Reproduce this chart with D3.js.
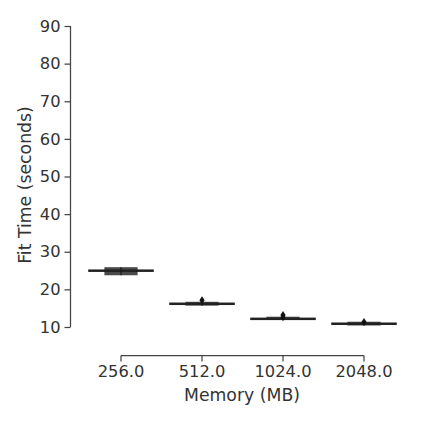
<!DOCTYPE html>
<html><head><meta charset="utf-8">
<script src="https://cdn.jsdelivr.net/npm/d3@7"></script>
<style>body{margin:0;background:#fff}svg text{font-family:"DejaVu Sans",sans-serif;fill:#333}</style>
</head><body>
<svg id="c" width="423" height="423"></svg>
<script>
const categories = ["256.0", "512.0", "1024.0", "2048.0"];
const medians = [25.0, 16.3, 12.3, 11.0];
const innerLow = [24.7, 16.1, 12.1, 10.8];
const innerHigh = [25.3, 16.5, 12.5, 11.2];
const outerLow = [23.75, 15.68, 11.86, 10.4];
const outerHigh = [25.9, 16.7, 12.74, 11.4];
const outliers = [[], [17.1], [12.6, 13.2], [11.3]];
const yTicks = [10, 20, 30, 40, 50, 60, 70, 80, 90];

const svg = d3.select("#c");
const x = d3.scaleBand().domain(categories).range([80.5, 404.5]).padding(0);
const y = d3.scaleLinear().domain([10, 90]).range([327, 26]);
const bw = x.bandwidth();

// y axis
const ya = svg.append("g").attr("transform", "translate(70.5,0)")
  .call(d3.axisLeft(y).tickValues(yTicks).tickSize(6).tickPadding(4).tickFormat(d3.format("d")));
ya.select(".domain").attr("d", `M0,${y(10)}V${y(90)}`);
// x axis
const xa = svg.append("g").attr("transform", "translate(0,355.5)")
  .call(d3.axisBottom(x).tickSize(6).tickPadding(4));
xa.select(".domain").attr("d", `M${x(categories[0]) + bw/2},0H${x(categories[3]) + bw/2}`);
[ya, xa].forEach(g => {
  g.selectAll(".domain").attr("stroke", "#444").attr("stroke-width", 1.25);
  g.selectAll(".tick line").attr("stroke", "#444").attr("stroke-width", 1.25);
  g.selectAll(".tick text").attr("font-size", 16.3).attr("fill", "#333").attr("font-family", "DejaVu Sans");
});

svg.append("text").attr("x", 242).attr("y", 401).attr("text-anchor", "middle")
  .attr("font-size", 17.3).text("Memory (MB)");
svg.append("text").attr("transform", "translate(31,185) rotate(-90)").attr("text-anchor", "middle")
  .attr("font-size", 17.3).text("Fit Time (seconds)");

const g = svg.append("g");
categories.forEach((c, i) => {
  const cx = x(c) + bw / 2;
  const w1 = bw * 0.81, w2 = bw * 0.41;
  // outer (narrower, taller) box
  g.append("rect").attr("x", cx - w2/2).attr("width", w2)
    .attr("y", y(outerHigh[i])).attr("height", y(outerLow[i]) - y(outerHigh[i]))
    .attr("fill", "#4a4a4a");
  // inner wide box
  g.append("rect").attr("x", cx - w1/2).attr("width", w1)
    .attr("y", y(innerHigh[i])).attr("height", Math.max(2.5, y(innerLow[i]) - y(innerHigh[i])))
    .attr("fill", "#222");
  // median
  g.append("line").attr("x1", cx).attr("x2", cx)
    .attr("y1", y(outerHigh[i])).attr("y2", y(outerLow[i]))
    .attr("stroke", "#1a1a1a").attr("stroke-width", 1.2);
  outliers[i].forEach(v => {
    const py = y(v);
    g.append("path").attr("d", `M${cx},${py-4}L${cx+2.6},${py}L${cx},${py+4}L${cx-2.6},${py}Z`)
      .attr("fill", "#111");
  });
});
</script>
</body></html>
